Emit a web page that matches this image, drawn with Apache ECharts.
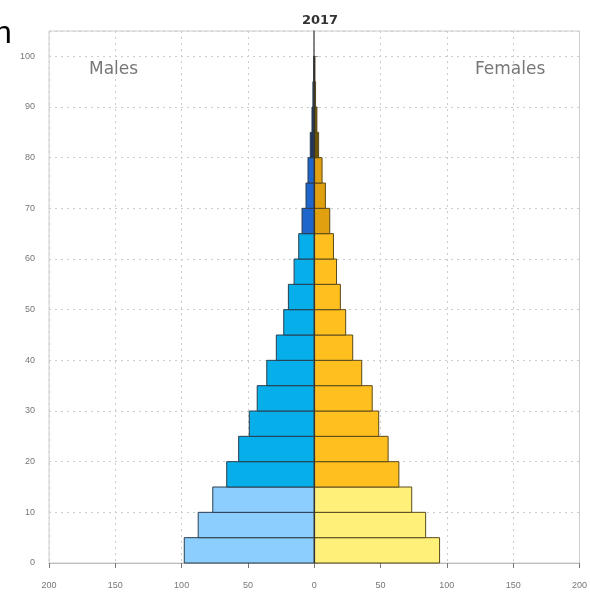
<!DOCTYPE html>
<html>
<head>
<meta charset="utf-8">
<script src="https://cdn.jsdelivr.net/npm/echarts@6/dist/echarts.min.js"></script>
<style>
html,body{margin:0;padding:0;background:#fff;}
#chart{width:590px;height:596px;}
</style>
</head>
<body>
<div id="chart"></div>
<script>
// Age groups (lower bound of each 5-year band)
const ageStarts = [0,5,10,15,20,25,30,35,40,45,50,55,60,65,70,75,80,85,90,95];
// Population per band
const males   = [98, 87.5, 76.5, 66, 57, 49, 43, 35.8, 28.6, 23, 19.5, 15.2, 11.7, 9.2, 6.2, 4.7, 3, 1.7, 1, 0.5];
const females = [94.5, 84, 73.5, 63.8, 55.7, 48.6, 43.7, 35.8, 29, 23.7, 19.7, 16.8, 14.5, 11.7, 8.4, 5.9, 3.3, 2, 1, 0.5];
const xTicks = [-200,-150,-100,-50,0,50,100,150,200];
const title = '2017';
const maleLabel = 'Males';
const femaleLabel = 'Females';

function groupOf(a){ if (a < 15) return 0; if (a < 65) return 1; if (a < 80) return 2; return 3; }
const maleColors   = ['#8ccfff', '#06aeea', '#1f66cc', '#1f3460'];
const femaleColors = ['#fff07a', '#ffbf1f', '#e0a010', '#6b5500'];

const chart = echarts.init(document.getElementById('chart'));

function makeRender(colors, stroke){
  return function(params, api){
    const lo = api.value(0), v = api.value(1);
    const p1 = api.coord([0, lo]);
    const p2 = api.coord([v, lo + 5]);
    return {
      type: 'rect',
      shape: { x: Math.min(p1[0], p2[0]), y: p2[1], width: Math.abs(p2[0] - p1[0]), height: p1[1] - p2[1] },
      style: { fill: colors[groupOf(lo)], stroke: stroke, lineWidth: 1 }
    };
  };
}

const maleData = ageStarts.map((a, i) => [a, -males[i]]);
const femaleData = ageStarts.map((a, i) => [a, females[i]]);

const option = {
  animation: false,
  title: {
    text: title, left: 315, top: 9, textAlign: 'center',
    textStyle: { fontFamily: 'DejaVu Sans', fontSize: 13, fontWeight: 'bold', color: '#333' }
  },
  grid: { left: 49, right: 10, top: 31, bottom: 33, show: true, borderColor: '#c9cec9', borderWidth: 1 },
  xAxis: {
    type: 'value', min: -200, max: 200, interval: 50,
    axisLine: { show: true, onZero: false, lineStyle: { color: '#c0bcc0' } },
    axisTick: { show: true, length: 5, lineStyle: { color: '#777' } },
    axisLabel: { margin: 18, fontFamily: 'Liberation Sans', fontSize: 9, color: '#777',
      formatter: v => xTicks.includes(v) ? String(Math.abs(v)) : '' },
    splitLine: { show: true, lineStyle: { type: [2, 4], color: '#c8cec8' } }
  },
  yAxis: {
    type: 'value', min: 0, max: 105, interval: 10,
    axisLine: { show: true, lineStyle: { color: '#5e5e5e', width: 1.5 } },
    axisTick: { show: true, inside: true, length: 4, lineStyle: { color: '#999' } },
    axisLabel: { margin: 14, fontFamily: 'Liberation Sans', fontSize: 9, color: '#777', showMaxLabel: false,
      formatter: v => (v % 10 === 0) ? String(v) : '' },
    splitLine: { show: true, lineStyle: { type: [2, 4], color: '#c8cec8' } }
  },
  series: [
    {
      type: 'custom', name: maleLabel, renderItem: makeRender(maleColors, '#2a3d4d'),
      encode: { x: 1, y: 0 }, data: maleData, z: 3,
      markLine: {
        silent: true, symbol: 'none', label: { show: false },
        lineStyle: { color: '#333', width: 1.2, type: 'solid' },
        data: [[{ coord: [0, 0] }, { coord: [0, 100] }]]
      }
    },
    {
      type: 'custom', name: femaleLabel, renderItem: makeRender(femaleColors, '#5a4a1a'),
      encode: { x: 1, y: 0 }, data: femaleData, z: 3
    }
  ],
  graphic: [
    { type: 'text', left: 89, top: 61, style: { text: maleLabel, fontFamily: 'DejaVu Sans', fontSize: 17, fill: '#777' } },
    { type: 'text', left: 475, top: 61, style: { text: femaleLabel, fontFamily: 'DejaVu Sans', fontSize: 17, fill: '#777' } },
    { type: 'text', x: -6, y: 34, style: { text: 'n', fontFamily: 'Liberation Sans', fontSize: 32, fill: '#000', verticalAlign: 'middle' } }
  ]
};
chart.setOption(option);
</script>
</body>
</html>
